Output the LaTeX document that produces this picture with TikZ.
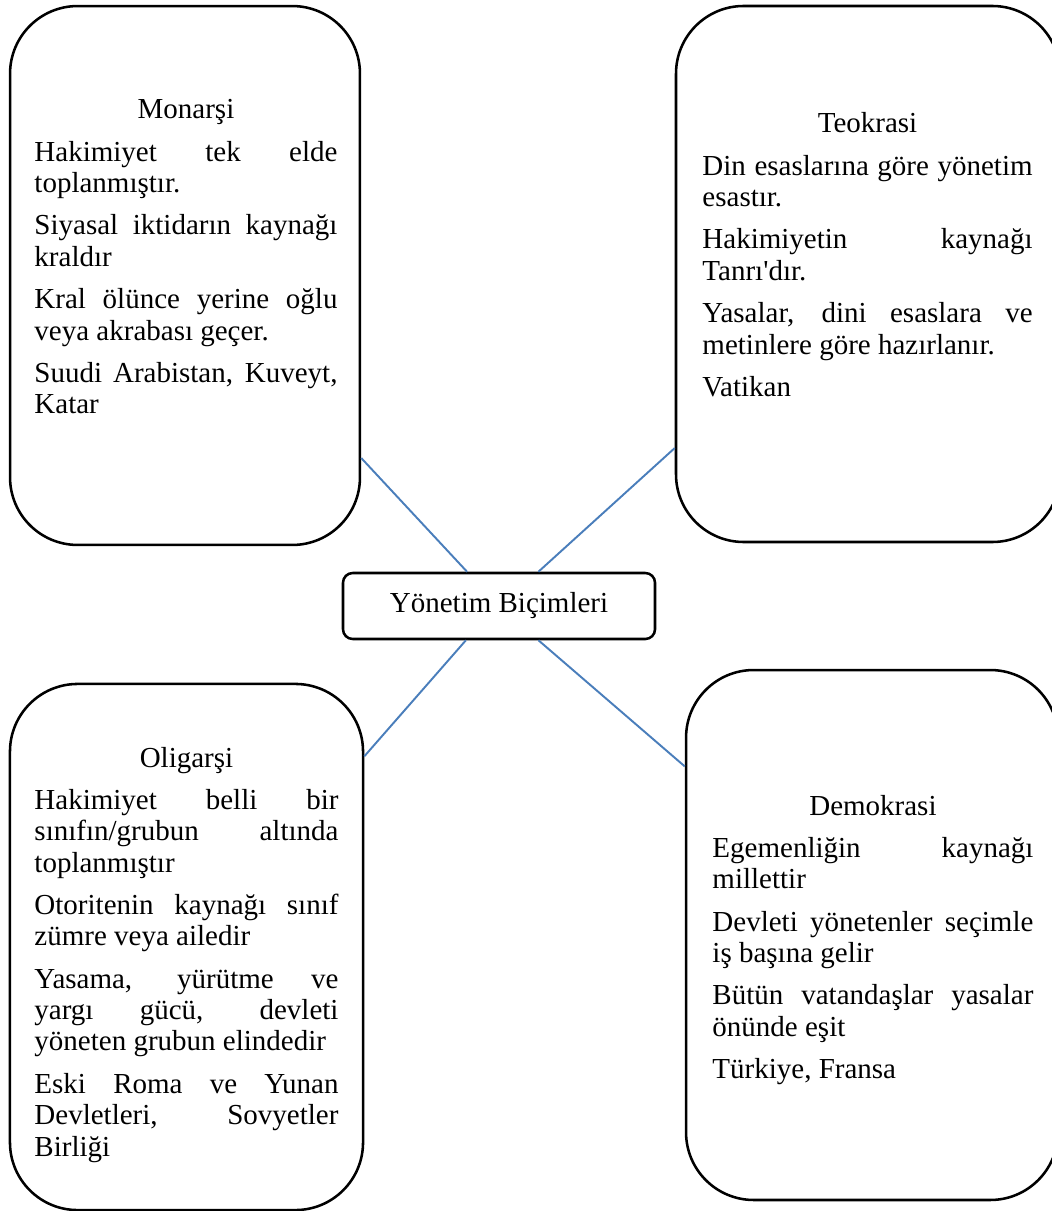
\documentclass[tikz,border=0pt]{standalone}
\usepackage{fontspec}
\setmainfont{Liberation Serif}
\usetikzlibrary{positioning}
\definecolor{spokeblue}{HTML}{4A7EBB}
\newcommand{\regimepar}{%
    \setlength{\parskip}{4.5pt}%
    \hyphenpenalty=10000 \tolerance=10000 \hbadness=10000 }
\tikzset{
    regime/.style={
        draw,
        line width=1.05pt,
        rounded corners=28pt,
        inner sep=0pt
    },
    regime text/.style={
        anchor=base west,
        inner sep=0pt,
        align=justify,
        font=\fontsize{12}{13}\selectfont
    },
    hub/.style={
        draw,
        line width=1.05pt,
        rounded corners=4pt,
        minimum width=129.1pt,
        minimum height=27.3pt,
        font=\fontsize{12}{13}\selectfont
    },
    spoke/.style={
        draw=spokeblue,
        line width=0.8pt
    }
}

\begin{document}
\begin{tikzpicture}[x=0.4138pt, y=-0.4138pt]
    \useasboundingbox (0,0) rectangle (1051,1211);
    % the four boxes
    \node[regime, minimum width=144.8pt, minimum height=223pt] (monarsi) at (185,275.5) {};
    \node[regime, minimum width=158.9pt, minimum height=221.8pt] (teokrasi) at (868,274) {};
    \node[regime, minimum width=146.1pt, minimum height=217.7pt] (oligarsi) at (186.5,947) {};
    \node[regime, minimum width=153.9pt, minimum height=219.3pt] (demokrasi) at (872,935) {};
    \node[hub] (hub) at (499,606) {Yönetim Biçimleri};
    % texts
    \node[regime text, text width=125.4pt] (monarsi text) at (34,119) {\regimepar
        {\centering Monarşi\par}
        Hakimiyet tek elde\linebreak toplanmıştır.\par
        Siyasal iktidarın kaynağı\linebreak kraldır\par
        Kral ölünce yerine oğlu\linebreak veya akrabası geçer.\par
        Suudi Arabistan, Kuveyt,\linebreak Katar};
    \node[regime text, text width=136.6pt] (teokrasi text) at (702,133) {\regimepar
        {\centering Teokrasi\par}
        Din esaslarına göre yönetim\linebreak esastır.\par
        Hakimiyetin kaynağı\linebreak Tanrı\textquotesingle dır.\par
        Yasalar, dini esaslara ve\linebreak metinlere göre hazırlanır.\par
        Vatikan};
    \node[regime text, text width=125.8pt] (oligarsi text) at (34,767) {\regimepar
        {\centering Oligarşi\par}
        Hakimiyet belli bir\linebreak sınıfın/grubun altında\linebreak toplanmıştır\par
        Otoritenin kaynağı sınıf\linebreak zümre veya ailedir\par
        Yasama, yürütme ve\linebreak yargı gücü, devleti\linebreak yöneten grubun elindedir\par
        Eski Roma ve Yunan\linebreak Devletleri, Sovyetler\linebreak Birliği};
    \node[regime text, text width=132.8pt] (demokrasi text) at (712,815) {\regimepar
        {\centering Demokrasi\par}
        Egemenliğin kaynağı\linebreak millettir\par
        Devleti yönetenler seçimle\linebreak iş başına gelir\par
        Bütün vatandaşlar yasalar\linebreak önünde eşit\par
        Türkiye, Fransa};
    % spokes
    \draw[spoke] (monarsi.-46) -- (hub.133);
    \draw[spoke] (teokrasi.222) -- (hub.41);
    \draw[spoke] (oligarsi.47.4) -- (hub.226.8);
    \draw[spoke] (demokrasi.138.8) -- (hub.-41);
\end{tikzpicture}
\end{document}
